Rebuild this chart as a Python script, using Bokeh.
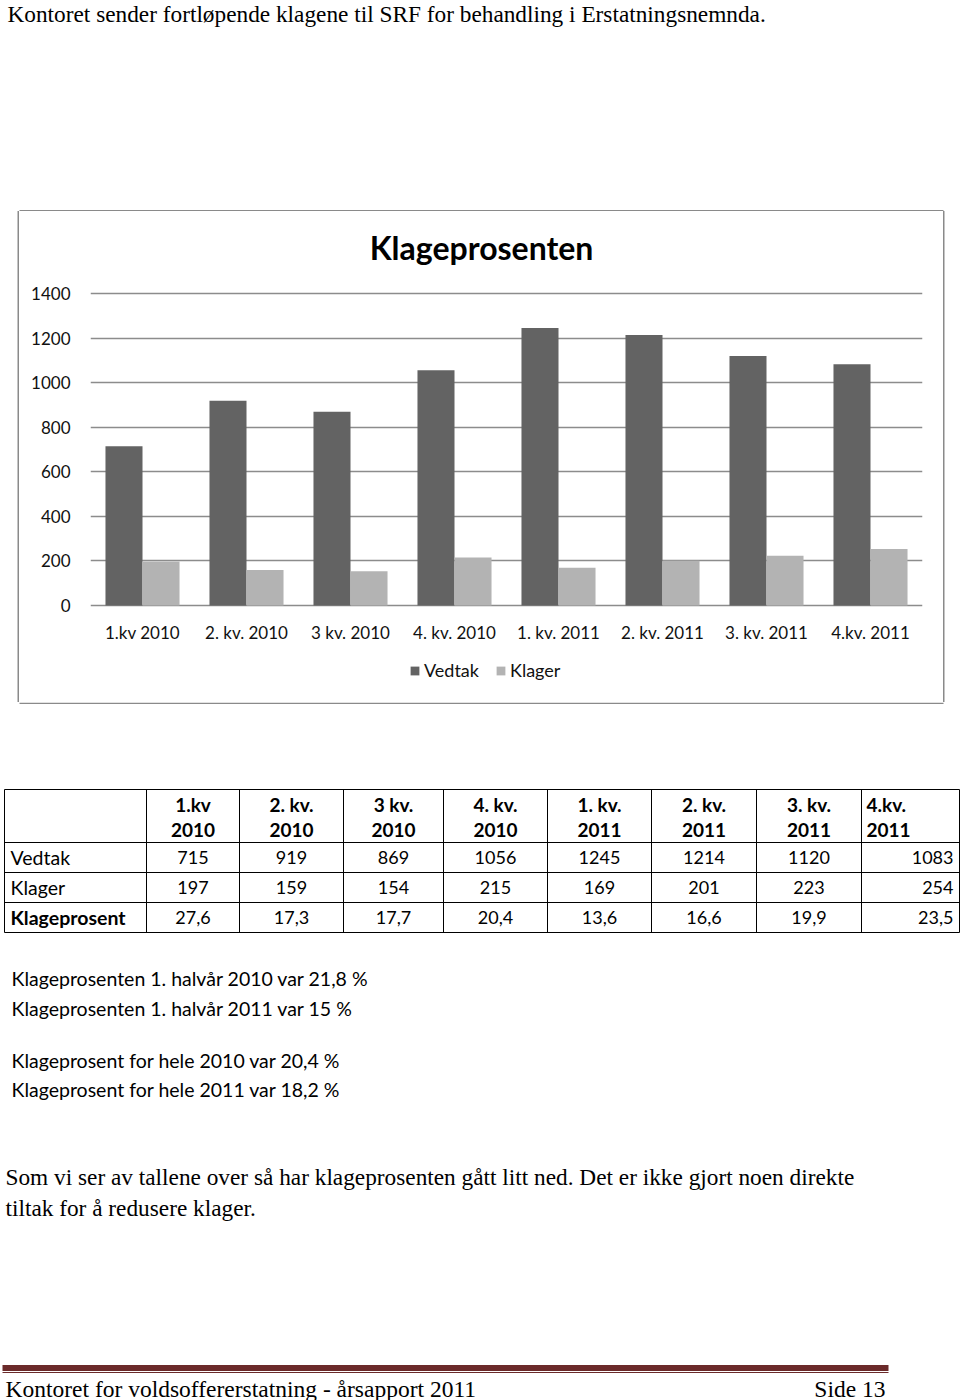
from bokeh.plotting import figure
from bokeh.models import (FactorRange, Range1d, Legend, LegendItem,
                          FixedTicker, ColumnDataSource, Spacer)
from bokeh.layouts import column, row
from bokeh.transform import dodge
from bokeh.core.properties import value
from bokeh.embed import file_html
from bokeh.resources import INLINE

# ---------------- data ----------------
categories = ["1.kv 2010", "2. kv. 2010", "3 kv. 2010", "4. kv. 2010",
              "1. kv. 2011", "2. kv. 2011", "3. kv. 2011", "4.kv. 2011"]
vedtak = [715, 919, 869, 1056, 1245, 1214, 1120, 1083]
klager = [197, 159, 154, 215, 169, 201, 223, 254]
klageprosent = [27.6, 17.3, 17.7, 20.4, 13.6, 16.6, 19.9, 23.5]
y_ticks = [0, 200, 400, 600, 800, 1000, 1200, 1400]
series_names = ["Vedtak", "Klager"]
row_labels = ["Vedtak", "Klager", "Klageprosent"]
chart_title = "Klageprosenten"
intro_text = "Kontoret sender fortløpende klagene til SRF for behandling i Erstatningsnemnda."
summary_lines = ["Klageprosenten 1. halvår 2010 var 21,8 %",
                 "Klageprosenten 1. halvår 2011 var 15 %",
                 "Klageprosent for hele 2010 var 20,4 %",
                 "Klageprosent for hele 2011 var 18,2 %"]
conclusion_lines = ["Som vi ser av tallene over så har klageprosenten gått litt ned. Det er ikke gjort noen direkte",
                    "tiltak for å redusere klager."]
footer_left = "Kontoret for voldsoffererstatning  -  årsapport 2011"
footer_right = "Side 13"

CAL = "Lato"
SERIF = "Liberation Serif"
DARK = "#636363"
LIGHT = "#b3b3b3"
GRID = "#8c8c8c"
BOX = "#8a8a8a"


def page_fig(w, h, x0, x1, y0, y1):
    f = figure(width=w, height=h, x_range=Range1d(x0, x1), y_range=Range1d(y1, y0),
               output_backend="svg", toolbar_location=None, tools="",
               x_axis_location=None, y_axis_location=None, min_border=0)
    f.grid.visible = False
    f.outline_line_color = None
    f.background_fill_color = "white"
    return f


# ---------------- top text ----------------
top = page_fig(960, 211, 0, 960, 0, 211)
top.text(x=[7], y=[13], text=[intro_text], text_font=value(SERIF),
         text_font_size="23.3px", text_baseline="middle", text_color="black")
top.segment(x0=[19], y0=[210.3], x1=[943], y1=[210.3], line_color=BOX, line_width=1.5)

# side spacers carrying the chart box's vertical edges
left_sp = Spacer(width=19, height=491)
left_sp.styles = {"box-shadow": "inset -1.5px 0 0 0 #8a8a8a"}
right_sp = Spacer(width=17, height=491)
right_sp.styles = {"box-shadow": "inset 1.5px 0 0 0 #8a8a8a"}

# ---------------- chart ----------------
# plot frame covers the whole chart box; 0 sits 97 px above its bottom,
# 1400 sits 82 px below its top (frame height 491 px)
PX = 312.0 / 1400.0
y_lo = -97 / PX
y_hi = 1400 + 82 / PX
chart = figure(width=924, height=491,
               x_range=FactorRange(factors=categories, range_padding=0),
               y_range=Range1d(y_lo, y_hi), x_axis_location=None,
               output_backend="svg", toolbar_location=None, tools="",
               min_border_left=71, min_border_right=21,
               min_border_top=0, min_border_bottom=0)
chart.outline_line_color = None

src = ColumnDataSource(dict(cat=categories, vedtak=vedtak, klager=klager))
r1 = chart.vbar(x=dodge("cat", -0.178, range=chart.x_range), top="vedtak",
                width=0.356, source=src, fill_color=DARK, line_color=None)
r2 = chart.vbar(x=dodge("cat", 0.178, range=chart.x_range), top="klager",
                width=0.356, source=src, fill_color=LIGHT, line_color=None)

chart.xgrid.visible = False
chart.ygrid.grid_line_color = GRID
chart.ygrid.grid_line_width = 1.3
ya = chart.yaxis[0]
ya.ticker = FixedTicker(ticks=y_ticks)
ya.axis_line_color = None
ya.major_tick_line_color = None
ya.minor_tick_line_color = None
ya.major_label_text_font = CAL
ya.major_label_text_font_size = "17px"
ya.major_label_text_color = "#111111"
ya.major_label_standoff = 14

# category labels placed on the categorical scale, just under the zero line
chart.text(x=categories, y=[-27 / PX] * len(categories), text=categories,
           text_font=value(CAL), text_font_size="17px", text_color="#111111",
           text_align="center", text_baseline="middle")

# chart title
chart.text(x=[3.76], y=[1400 + 46 / PX], text=[chart_title],
           text_font=value(CAL), text_font_style="bold", text_font_size="32px",
           text_color="black", text_align="center", text_baseline="middle")

legend = Legend(items=[LegendItem(label=series_names[0], renderers=[r1]),
                       LegendItem(label=series_names[1], renderers=[r2])],
                orientation="horizontal", location=(319, 21),
                border_line_color=None, background_fill_alpha=0,
                glyph_width=11, glyph_height=11, label_standoff=4, spacing=16,
                padding=0, margin=0, label_text_font=CAL,
                label_text_font_size="18px", label_text_color="#111111")
chart.add_layout(legend, "center")

# ---------------- bottom: table and text ----------------
bottom = page_fig(960, 698, 0, 960, 702, 1400)
bottom.segment(x0=[19], y0=[702.7], x1=[943], y1=[702.7], line_color=BOX, line_width=1.5)

col_edges = [4, 146, 239, 343, 443, 547, 651, 756, 861, 959]
row_edges = [789, 842, 872, 902, 932]
bottom.segment(x0=col_edges, y0=[row_edges[0]] * len(col_edges),
               x1=col_edges, y1=[row_edges[-1]] * len(col_edges),
               line_color="black", line_width=1)
bottom.segment(x0=[col_edges[0]] * len(row_edges), y0=row_edges,
               x1=[col_edges[-1]] * len(row_edges), y1=row_edges,
               line_color="black", line_width=1)

n = len(categories)
hx, htxt1, htxt2, halign = [], [], [], []
for i, c in enumerate(categories):
    a, b = c.rsplit(" ", 1)
    if i == n - 1:
        hx.append(col_edges[i + 1] + 5)
        halign.append("left")
    else:
        hx.append((col_edges[i + 1] + col_edges[i + 2]) / 2)
        halign.append("center")
    htxt1.append(a)
    htxt2.append(b)
hsrc = ColumnDataSource(dict(x=hx, t1=htxt1, t2=htxt2, al=halign,
                             y1=[804] * n, y2=[829] * n))
for ycol, tcol in (("y1", "t1"), ("y2", "t2")):
    bottom.text(x="x", y=ycol, text=tcol, text_align="al", source=hsrc,
                text_font=value(CAL), text_font_style="bold", text_font_size="19px",
                text_baseline="middle", text_color="black")

row_y = [857, 887, 917]
rows = [[str(v) for v in vedtak], [str(v) for v in klager],
        [f"{v:.1f}".replace(".", ",") for v in klageprosent]]
vx, vy, vt, va = [], [], [], []
for r, vals in enumerate(rows):
    for i, t in enumerate(vals):
        if i == n - 1:
            vx.append(953)
            va.append("right")
        else:
            vx.append((col_edges[i + 1] + col_edges[i + 2]) / 2)
            va.append("center")
        vy.append(row_y[r])
        vt.append(t)
bottom.text(x="x", y="y", text="t", text_align="a",
            source=ColumnDataSource(dict(x=vx, y=vy, t=vt, a=va)),
            text_font=value(CAL), text_font_size="18px",
            text_baseline="middle", text_color="black")

bottom.text(x=[10, 10, 10], y=row_y, text=row_labels,
            text_font_style=["normal", "normal", "bold"],
            text_font=value(CAL), text_font_size="19.5px",
            text_baseline="middle", text_color="black")

bottom.text(x=[11] * 4, y=[978, 1008, 1060, 1089], text=summary_lines,
            text_font=value(CAL), text_font_size="19.5px",
            text_baseline="middle", text_color="black")

bottom.text(x=[5, 5], y=[1176, 1207], text=conclusion_lines,
            text_font=value(SERIF), text_font_size="23.3px",
            text_baseline="middle", text_color="black")

# footer
bottom.segment(x0=[2], y0=[1367.5], x1=[888], y1=[1367.5],
               line_color="#6b2a2a", line_width=6)
bottom.segment(x0=[2], y0=[1372], x1=[888], y1=[1372],
               line_color="#6b2a2a", line_width=1)
bottom.text(x=[5], y=[1388], text=[footer_left], text_font=value(SERIF),
            text_font_size="23.5px", text_baseline="middle", text_color="black")
bottom.text(x=[885], y=[1388], text=[footer_right], text_font=value(SERIF),
            text_font_size="23.5px", text_baseline="middle", text_align="right",
            text_color="black")

layout = column(top, row(left_sp, chart, right_sp), bottom)

open("out.html", "w").write(file_html(layout, INLINE))
